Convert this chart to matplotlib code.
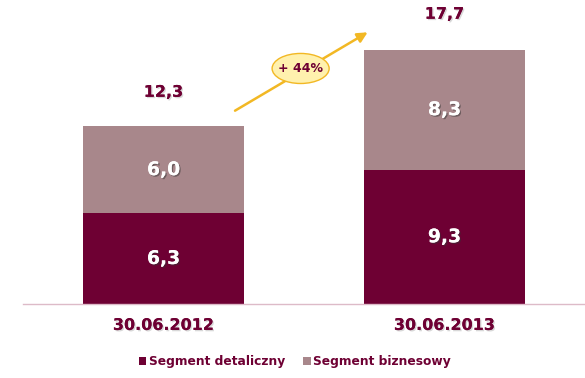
import matplotlib
matplotlib.use("Agg")
import matplotlib.pyplot as plt
from matplotlib.patches import Ellipse, Patch
import matplotlib.patheffects as pe

categories = ["30.06.2012", "30.06.2013"]
detal = [6.3, 9.3]
biznes = [6.0, 8.3]
totals = [12.3, 17.7]
series_names = ["Segment detaliczny", "Segment biznesowy"]
growth_label = "+ 44%"

c_dark = "#6E0033"
c_light = "#A8878B"
c_text = "#6E0033"
c_gold = "#F2B824"

fig = plt.figure(figsize=(5.85, 3.78), dpi=100)
ax = fig.add_axes([23/585, 74/378, 562/585, 304/378])
x = list(range(len(categories)))
w = 0.573
ax.bar(x, detal, width=w, color=c_dark)
ax.bar(x, biznes, width=w, bottom=detal, color=c_light)
ax.set_xlim(-0.5, 1.5)
ax.set_ylim(0, 304/14.45)

shadow_w = [pe.withSimplePatchShadow(offset=(1, -1), shadow_rgbFace="#333333", alpha=0.5), pe.Normal()]
shadow_d = [pe.withSimplePatchShadow(offset=(1, -1), shadow_rgbFace="#aaaaaa", alpha=0.45), pe.Normal()]

def fmt(v):
    return f"{v:.1f}".replace(".", ",")

for i in x:
    ax.text(i, detal[i]/2, fmt(detal[i]), ha="center", va="center", color="white",
            fontsize=13.5, fontweight="bold", path_effects=shadow_w)
    ax.text(i, detal[i] + biznes[i]/2, fmt(biznes[i]), ha="center", va="center", color="white",
            fontsize=13.5, fontweight="bold", path_effects=shadow_w)
    ax.annotate(fmt(totals[i]), (i, totals[i]), xytext=(0, 34*0.72), textcoords="offset points",
                ha="center", va="center", color=c_text, fontsize=11.5, fontweight="bold",
                path_effects=shadow_d)

# growth arrow
ax.annotate("", xy=(0.735, 18.9), xytext=(0.246, 13.28),
            arrowprops=dict(arrowstyle="-|>,head_length=0.6,head_width=0.3", color=c_gold, lw=1.8))
ax.add_patch(Ellipse((0.488, 16.3), 0.203, 2.08, facecolor="#FFF1AE", edgecolor=c_gold, lw=1, zorder=5))
ax.text(0.488, 16.3, growth_label, ha="center", va="center", color=c_text, fontsize=9,
        fontweight="bold", zorder=6)

for s in ["top", "left", "right"]:
    ax.spines[s].set_visible(False)
ax.spines["bottom"].set_color("#DDBBC8")
ax.spines["bottom"].set_linewidth(1)
ax.set_yticks([])
ax.set_xticks(x)
ax.set_xticklabels(categories, fontsize=11.5, fontweight="bold", color=c_text)
for t in ax.get_xticklabels():
    t.set_path_effects(shadow_d)
ax.tick_params(axis="x", length=0, pad=10)

handles = [Patch(facecolor=c_dark), Patch(facecolor=c_light)]
leg = fig.legend(handles, series_names, loc="center", bbox_to_anchor=(295/585, 1 - 361.5/378),
                 ncol=2, frameon=False, handlelength=0.6, handleheight=0.6, handletextpad=0.2,
                 columnspacing=1.5, prop=dict(size=8.8, weight="bold"))
for t in leg.get_texts():
    t.set_color(c_text)

fig.savefig("out.png", dpi=100)
